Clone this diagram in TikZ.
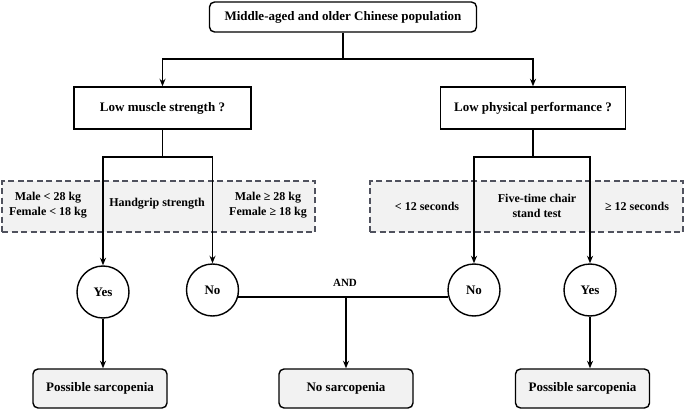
\documentclass[tikz,border=0pt]{standalone}
\usepackage{fontspec}
\setmainfont{Liberation Serif}
\usetikzlibrary{arrows.meta,positioning}

\definecolor{boxgray}{RGB}{242,242,242}
\definecolor{dashgray}{RGB}{80,82,94}

\begin{document}
\begin{tikzpicture}[x=1pt,y=-1pt,
  every node/.style={font=\fontsize{13}{15}\selectfont\bfseries,inner sep=0pt},
  line/.style={line width=1.4pt},
  arr/.style={line width=1.4pt,-{Stealth[length=7.5pt,width=6pt]}},
  startbox/.style={draw,line width=1.4pt,rounded corners=5pt,fill=white,minimum width=267pt,minimum height=30pt},
  askbox/.style={draw,line width=1.4pt,fill=white,minimum height=42pt},
  critbox/.style={draw=dashgray,line width=1.1pt,dash pattern=on 6pt off 3.5pt,fill=boxgray,minimum width=313pt,minimum height=51pt},
  critlabel/.style={font=\fontsize{12}{14.5}\selectfont\bfseries,align=center},
  answer/.style={draw,circle,line width=1.4pt,fill=white,minimum size=52pt},
  endbox/.style={draw,line width=1.4pt,rounded corners=5pt,fill=boxgray,minimum width=134pt,minimum height=39pt}
]
\useasboundingbox (0,0) rectangle (685,409);

% population and the two questions
\node[startbox] (pop) at (343,17) {Middle-aged and older Chinese population};
\node[askbox,minimum width=177pt] (lms) at (162.5,108) {Low muscle strength ?};
\node[askbox,minimum width=185pt] (lpp) at (533,108) {Low physical performance ?};

% cut-off boxes
\node[critbox] (hgbox) at (158.5,206.5) {};
\node[critbox] (csbox) at (526.5,206.5) {};
\node[critlabel] (hglow) at (48,205) {Male < 28 kg\\Female < 18 kg};
\node[critlabel] (hgname) at (157,204) {Handgrip strength};
\node[critlabel] (hghigh) at (268,205) {Male ≥ 28 kg\\Female ≥ 18 kg};
\node[critlabel] (cslow) at (427,206) {< 12 seconds};
\node[critlabel] (csname) at (537,206) {Five-time chair\\stand test};
\node[critlabel] (cshigh) at (637,206) {≥ 12 seconds};

% answers
\node[answer] (yesL) at (103,292) {Yes};
\node[answer] (noL) at (212.5,290) {No};
\node[answer] (noR) at (474,290) {No};
\node[answer] (yesR) at (590,290) {Yes};

% outcomes
\node[endbox] (psL) at (100,388.5) {Possible sarcopenia};
\node[endbox] (nos) at (346,388.5) {No sarcopenia};
\node[endbox] (psR) at (582.5,388.5) {Possible sarcopenia};
\node[font=\fontsize{11}{13}\selectfont\bfseries] (andlbl) at (345,283) {AND};

\coordinate (j0) at (343,59);
\coordinate (jl) at (162.5,157);
\coordinate (jr) at (533,157);
\coordinate (jand) at (346,297);

\draw[line] (pop) -- (j0);
\draw[arr] (j0) -| (lms);
\draw[arr] (j0) -| (lpp);
\draw[line] (lms) -- (jl);
\draw[line] (lpp) -- (jr);
\draw[arr] (jl) -| (yesL);
\draw[arr] (jl) -| (noL);
\draw[arr] (jr) -| (noR);
\draw[arr] (jr) -| (yesR);
\draw[line] (noL.-15) -- (noR.195);
\draw[arr] (jand) -- (nos);
\draw[arr] (yesL) -- (yesL |- psL.north);
\draw[arr] (yesR) -- (yesR |- psR.north);
\end{tikzpicture}
\end{document}
